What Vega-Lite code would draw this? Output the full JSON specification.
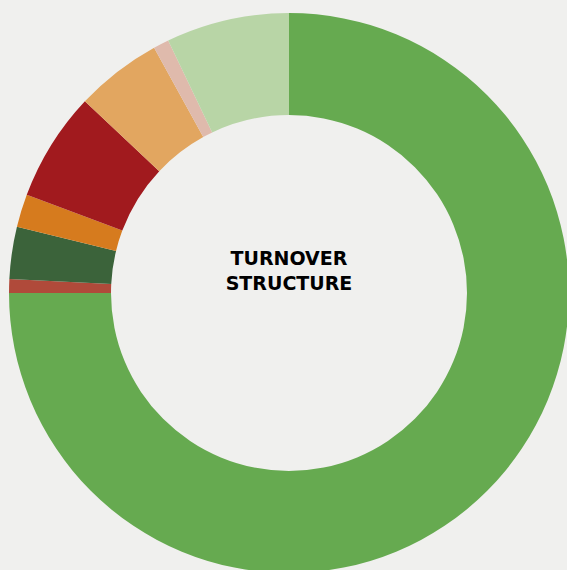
{
  "$schema": "https://vega.github.io/schema/vega-lite/v6.json",
  "width": 578,
  "height": 586,
  "autosize": "none",
  "padding": 0,
  "background": "#f0f0ee",
  "view": {"stroke": null},
  "layer": [
    {
      "data": {"values": [
        {"segment": "Segment 1", "share": 75.0, "ord": 1},
        {"segment": "Segment 2", "share": 0.8, "ord": 2},
        {"segment": "Segment 3", "share": 3.0, "ord": 3},
        {"segment": "Segment 4", "share": 1.9, "ord": 4},
        {"segment": "Segment 5", "share": 6.3, "ord": 5},
        {"segment": "Segment 6", "share": 5.0, "ord": 6},
        {"segment": "Segment 7", "share": 0.9, "ord": 7},
        {"segment": "Segment 8", "share": 7.1, "ord": 8}
      ]},
      "mark": {"type": "arc", "radius": 280, "radius2": 178},
      "encoding": {
        "theta": {"field": "share", "type": "quantitative", "stack": true},
        "order": {"field": "ord", "type": "quantitative"},
        "color": {
          "field": "segment", "type": "nominal", "legend": null,
          "scale": {
            "domain": ["Segment 1","Segment 2","Segment 3","Segment 4","Segment 5","Segment 6","Segment 7","Segment 8"],
            "range": ["#66aa50","#b04a3a","#3b633a","#d67b1e","#a11a1e","#e2a660","#dfbaac","#b8d5a6"]
          }
        }
      }
    },
    {
      "data": {"values": [{"label": "TURNOVER\nSTRUCTURE"}]},
      "mark": {"type": "text", "font": "DejaVu Sans", "fontWeight": "bold", "fontSize": 19, "color": "#000000", "lineBreak": "\n", "lineHeight": 25, "baseline": "middle", "align": "center", "dy": -34},
      "encoding": {"text": {"field": "label", "type": "nominal"}}
    }
  ]
}
